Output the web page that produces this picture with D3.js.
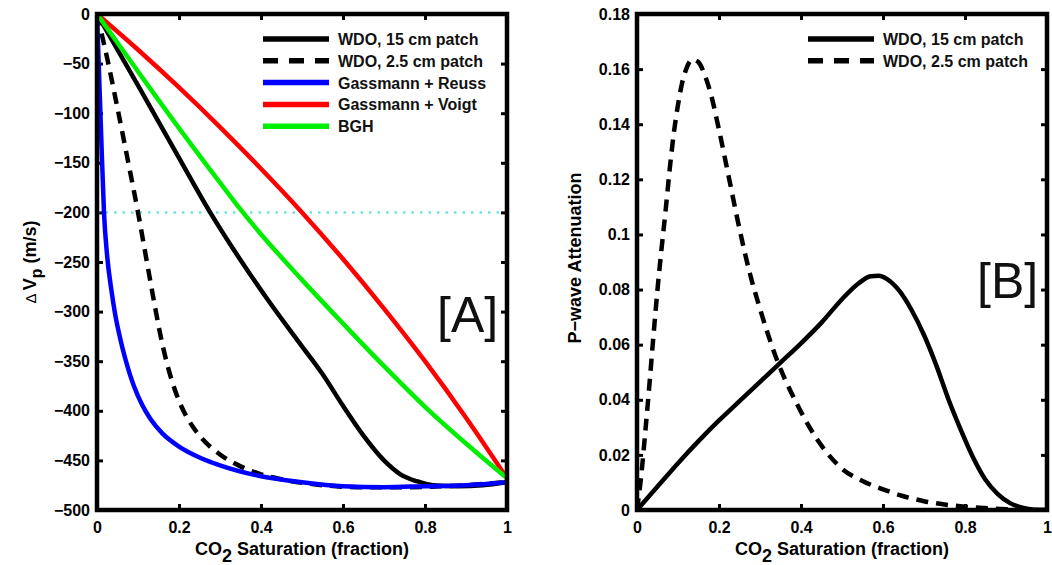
<!DOCTYPE html>
<html><head><meta charset="utf-8">
<script src="https://cdn.jsdelivr.net/npm/d3@7"></script>
<style>
body{margin:0;background:#fff;}
svg{display:block;font-family:"Liberation Sans",Arial,sans-serif;}
.tick text{font-family:"Liberation Sans",Arial,sans-serif;font-weight:bold;font-size:16px;fill:#000;}
</style></head><body>
<svg id="c" width="1052" height="565"></svg>
<script>
// ---------- Data ----------
const xTicks = [0, 0.2, 0.4, 0.6, 0.8, 1];
const yTicksA = [0, -50, -100, -150, -200, -250, -300, -350, -400, -450, -500];
const yTicksB = [0, 0.02, 0.04, 0.06, 0.08, 0.1, 0.12, 0.14, 0.16, 0.18];

// Panel A: Delta Vp (m/s) vs CO2 saturation
const wdo15X = [0, 0.1, 0.2, 0.276, 0.35, 0.42, 0.5, 0.55, 0.6, 0.65, 0.7, 0.74, 0.78, 0.82, 0.88, 0.94, 1];
const wdo15Y = [0, -72, -145, -200, -248, -290, -335, -363, -395, -425, -450, -464, -471, -475, -476, -475, -472];
const wdo25X = [0, 0.025, 0.05, 0.075, 0.1, 0.12, 0.14, 0.16, 0.18, 0.2, 0.22, 0.25, 0.3, 0.35, 0.4, 0.45, 0.55, 0.65, 0.75, 0.85, 1];
const wdo25Y = [0, -45, -95, -147, -200, -246, -292, -334, -366, -390, -407, -425, -444, -456, -464, -469, -475, -477, -477, -476, -472];
const reussX = [0, 0.005, 0.01, 0.017, 0.025, 0.035, 0.044, 0.056, 0.068, 0.08, 0.09, 0.11, 0.13, 0.16, 0.2, 0.25, 0.3, 0.4, 0.5, 0.6, 0.7, 0.8, 0.9, 1];
const reussY = [0, -60, -120, -200, -245, -278, -302, -326, -346, -363, -375, -394, -408, -423, -436, -447, -455, -466, -472, -476, -477, -476, -475, -472];
const voigtX = [0, 0.1, 0.2, 0.3, 0.4, 0.5, 0.6, 0.7, 0.8, 0.9, 1];
const voigtY = [0, -36, -74, -114, -156, -200, -247, -297, -350, -407, -468];
const bghX = [0, 0.1, 0.2, 0.3, 0.35, 0.4, 0.5, 0.6, 0.7, 0.8, 0.9, 1];
const bghY = [0, -58, -115, -170, -197, -222, -268, -312, -355, -396, -433, -468];
const refLineA = -200;

// Panel B: P-wave attenuation vs CO2 saturation
const att15X = [0, 0.05, 0.1, 0.15, 0.2, 0.25, 0.3, 0.35, 0.4, 0.45, 0.5, 0.54, 0.57, 0.59, 0.61, 0.64, 0.67, 0.7, 0.73, 0.76, 0.79, 0.82, 0.85, 0.88, 0.91, 0.94, 0.97, 1];
const att15Y = [0, 0.0085, 0.017, 0.025, 0.0325, 0.0395, 0.0465, 0.0535, 0.0605, 0.068, 0.0765, 0.0822, 0.0848, 0.085, 0.0838, 0.0795, 0.0725, 0.0635, 0.0525, 0.040, 0.029, 0.019, 0.011, 0.0058, 0.0025, 0.0008, 0.0001, 0];
const att25X = [0, 0.01, 0.02, 0.03, 0.04, 0.05, 0.06, 0.07, 0.08, 0.09, 0.1, 0.11, 0.12, 0.135, 0.15, 0.165, 0.18, 0.2, 0.225, 0.25, 0.275, 0.3, 0.34, 0.39, 0.44, 0.5, 0.55, 0.6, 0.65, 0.7, 0.75, 0.8, 0.9, 1];
const att25Y = [0, 0.012, 0.028, 0.045, 0.063, 0.08, 0.095, 0.109, 0.124, 0.137, 0.147, 0.155, 0.16, 0.1635, 0.1625, 0.158, 0.151, 0.138, 0.12, 0.102, 0.086, 0.073, 0.055, 0.0385, 0.0255, 0.015, 0.0105, 0.0075, 0.005, 0.0032, 0.002, 0.0012, 0.0003, 0];

const legendA = ["WDO, 15 cm patch", "WDO, 2.5 cm patch", "Gassmann + Reuss", "Gassmann + Voigt", "BGH"];
const legendB = ["WDO, 15 cm patch", "WDO, 2.5 cm patch"];

// ---------- Drawing ----------
const svg = d3.select("#c");
const FONT = '"Liberation Sans",Arial,sans-serif';
const zip = (xs, ys) => xs.map((x, i) => [x, ys[i]]);

function panel(cfg) {
  const g = svg.append("g");
  const x = d3.scaleLinear().domain([0, 1]).range(cfg.xr);
  const y = d3.scaleLinear().domain(cfg.yd).range([510, 14]);
  const fmtX = d => d3.format("~f")(d);
  const tick = 6;
  g.append("g").attr("transform", "translate(0,510)")
    .call(d3.axisBottom(x).tickValues(xTicks).tickFormat(fmtX).tickSize(-tick).tickPadding(12));
  g.append("g").attr("transform", "translate(0,14)")
    .call(d3.axisTop(x).tickValues(xTicks).tickFormat("").tickSize(-tick));
  g.append("g").attr("transform", `translate(${cfg.xr[0]},0)`)
    .call(d3.axisLeft(y).tickValues(cfg.yt).tickFormat(cfg.fmtY).tickSize(-tick).tickPadding(7));
  g.append("g").attr("transform", `translate(${cfg.xr[1]},0)`)
    .call(d3.axisRight(y).tickValues(cfg.yt).tickFormat("").tickSize(-tick));
  g.selectAll(".domain").remove();
  g.selectAll(".tick line").attr("stroke", "#000").attr("stroke-width", 3);

  const clip = "clip" + cfg.id;
  g.append("clipPath").attr("id", clip).append("rect")
    .attr("x", cfg.xr[0]).attr("y", 14).attr("width", cfg.xr[1] - cfg.xr[0]).attr("height", 496);
  const pg = g.append("g").attr("clip-path", `url(#${clip})`);

  if (cfg.ref !== undefined) {
    pg.append("line").attr("x1", x(0)).attr("x2", x(1)).attr("y1", y(cfg.ref)).attr("y2", y(cfg.ref))
      .attr("stroke", "#6fe3e3").attr("stroke-width", 2.5).attr("stroke-dasharray", "2.5,6");
  }
  const line = d3.line().x(d => x(d[0])).y(d => y(d[1])).curve(d3.curveMonotoneX);
  cfg.series.forEach(s => {
    pg.append("path").attr("d", line(zip(s.x, s.y))).attr("fill", "none")
      .attr("stroke", s.color).attr("stroke-width", 4.5)
      .attr("stroke-dasharray", s.dash ? "12,8" : null)
      .attr("stroke-linejoin", "round");
  });

  // frame
  g.append("rect").attr("x", cfg.xr[0]).attr("y", 14).attr("width", cfg.xr[1] - cfg.xr[0]).attr("height", 496)
    .attr("fill", "none").attr("stroke", "#000").attr("stroke-width", 4.5);

  // legend
  cfg.series.forEach((s, i) => {
    const yy = 39 + i * 21.8;
    g.append("line").attr("x1", cfg.lx).attr("x2", cfg.lx + 66).attr("y1", yy).attr("y2", yy)
      .attr("stroke", s.color).attr("stroke-width", 5.5)
      .attr("stroke-dasharray", s.dash ? "15,11" : null);
    g.append("text").attr("x", cfg.lx + 75).attr("y", yy + 6).text(cfg.legend[i])
      .attr("font-family", FONT).attr("font-size", 16).attr("font-weight", "bold").attr("fill", "#111");
  });

  // x label
  const xl = g.append("text").attr("x", (cfg.xr[0] + cfg.xr[1]) / 2).attr("y", 555)
    .attr("text-anchor", "middle").attr("font-family", FONT).attr("font-size", 18).attr("font-weight", "bold");
  xl.append("tspan").text("CO");
  xl.append("tspan").attr("dy", 7).text("2");
  xl.append("tspan").attr("dy", -7).text(" Saturation (fraction)");

  // panel tag
  g.append("text").attr("x", cfg.tag[0]).attr("y", cfg.tag[1]).text(cfg.tagText)
    .attr("font-family", FONT).attr("font-size", 50).attr("fill", "#111");
  return g;
}

panel({
  id: "A", xr: [97, 507], yd: [-500, 0], yt: yTicksA, fmtY: d3.format("d"), ref: refLineA,
  series: [
    {x: wdo15X, y: wdo15Y, color: "#000"},
    {x: wdo25X, y: wdo25Y, color: "#000", dash: true},
    {x: reussX, y: reussY, color: "#0000ff"},
    {x: voigtX, y: voigtY, color: "#ff0000"},
    {x: bghX, y: bghY, color: "#00ee00"}
  ],
  legend: legendA, lx: 263, tag: [437, 332], tagText: "[A]"
});
panel({
  id: "B", xr: [637, 1047], yd: [0, 0.18], yt: yTicksB, fmtY: d => d === 0 ? "0" : d3.format(".2~f")(d),
  series: [
    {x: att15X, y: att15Y, color: "#000"},
    {x: att25X, y: att25Y, color: "#000", dash: true}
  ],
  legend: legendB, lx: 808, tag: [977, 298], tagText: "[B]"
});

// y labels
const yla = svg.append("text").attr("transform", "translate(36,262) rotate(-90)")
  .attr("text-anchor", "middle").attr("font-family", FONT).attr("font-size", 18).attr("font-weight", "bold");
yla.append("tspan").attr("font-weight", "normal").attr("font-size", 15).text("Δ ");
yla.append("tspan").text("V");
yla.append("tspan").attr("dy", 6).attr("font-size", 16).text("p");
yla.append("tspan").attr("dy", -6).text(" (m/s)");

svg.append("text").attr("transform", "translate(581,258) rotate(-90)")
  .attr("text-anchor", "middle").attr("font-family", FONT).attr("font-size", 18).attr("font-weight", "bold")
  .text("P\u2212wave Attenuation");
</script></body></html>
